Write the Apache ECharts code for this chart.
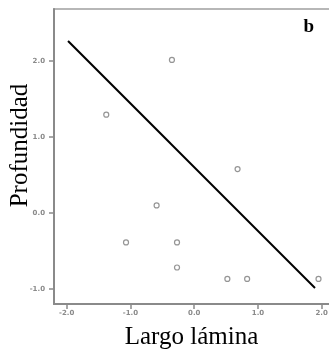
<!DOCTYPE html>
<html>
<head>
<meta charset="utf-8">
<script src="https://cdn.jsdelivr.net/npm/echarts@6/dist/echarts.min.js"></script>
<style>html,body{margin:0;padding:0;background:#fff}#c{width:329px;height:357px}</style>
</head>
<body>
<div id="c"></div>
<script>
// Data
var largoLamina = [-0.35, -1.38, 0.68, -0.59, -1.07, -0.27, -0.27, 0.52, 0.83, 1.95];
var profundidad = [2.01, 1.29, 0.575, 0.096, -0.39, -0.39, -0.72, -0.87, -0.87, -0.87];
var fitX = [-1.98, 1.895];
var fitY = [2.26, -0.99];
var xTicks = [-2, -1, 0, 1, 2];
var yTicks = [-1, 0, 1, 2];
var panelLabel = 'b';
var xTitle = 'Largo lámina';
var yTitle = 'Profundidad';

var points = largoLamina.map(function (x, i) { return [x, profundidad[i]]; });
var fit = fitX.map(function (x, i) { return [x, fitY[i]]; });

var chart = echarts.init(document.getElementById('c'), null, {renderer: 'canvas'});
var tickLabel = {fontSize: 7, color: '#8a8a8a', fontWeight: 'bold', fontFamily: 'DejaVu Sans',
  formatter: function (v) { return v.toFixed(1); }};
chart.setOption({
  animation: false,
  backgroundColor: '#fff',
  grid: {left: 54, top: 9, bottom: 53, right: -8, outerBoundsMode: 'none', containLabel: false,
    show: true, borderColor: '#a0a0a0', borderWidth: 1.5},
  title: {text: panelLabel, right: 10, top: 13,
    textStyle: {fontFamily: 'Liberation Serif', fontWeight: 'bold', fontSize: 19, color: '#000'}},
  xAxis: {
    type: 'value', min: -2.2, max: 2.24,
    name: xTitle, nameLocation: 'middle', nameGap: 21, nameMoveOverlap: false,
    nameTextStyle: {fontFamily: 'Liberation Serif', fontSize: 25, color: '#000', padding: [0, 8, 0, 0]},
    axisLine: {show: true, onZero: false, lineStyle: {color: '#8a8a8a', width: 2}},
    axisTick: {show: true, length: 5, customValues: xTicks, lineStyle: {color: '#8a8a8a', width: 1.5}},
    axisLabel: Object.assign({customValues: xTicks, margin: 6}, tickLabel),
    splitLine: {show: false}
  },
  yAxis: {
    type: 'value', min: -1.2, max: 2.68,
    name: yTitle, nameLocation: 'middle', nameGap: 21, nameRotate: 90, nameMoveOverlap: false,
    nameTextStyle: {fontFamily: 'Liberation Serif', fontSize: 25, color: '#000', padding: [0, 0, 0, 22]},
    axisLine: {show: true, onZero: false, lineStyle: {color: '#8a8a8a', width: 2}},
    axisTick: {show: true, length: 5, customValues: yTicks, lineStyle: {color: '#8a8a8a', width: 1.5}},
    axisLabel: Object.assign({customValues: yTicks, margin: 9}, tickLabel),
    splitLine: {show: false}
  },
  series: [
    {type: 'scatter', data: points, symbol: 'circle', symbolSize: 5,
      itemStyle: {color: '#fff', borderColor: '#7a7a7a', borderWidth: 1.2}},
    {type: 'line', data: fit, symbol: 'none', lineStyle: {color: '#000', width: 2}}
  ]
});
</script>
</body>
</html>
